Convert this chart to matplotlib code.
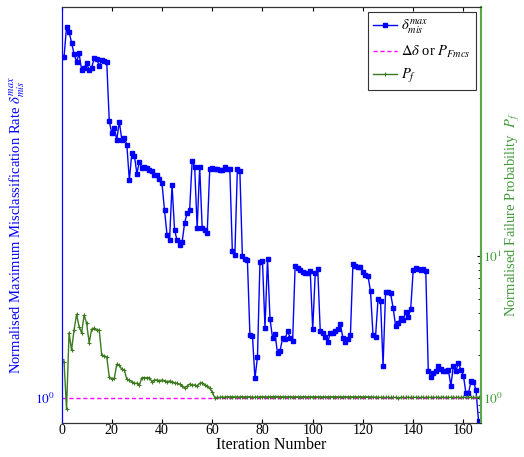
import matplotlib
matplotlib.use("Agg")
import matplotlib.pyplot as plt
import numpy as np
from matplotlib.ticker import FixedLocator, NullLocator, NullFormatter

plt.rcParams['font.family'] = ['Liberation Serif', 'DejaVu Serif']
plt.rcParams['mathtext.fontset'] = 'stix'

# normalised maximum misclassification rate (left axis), iterations 0..166
delta_mis = [
    7.12, 7.12, 8.47, 8.24, 7.74, 7.24, 6.93, 7.27, 6.61, 6.70,
    6.87, 6.61, 6.70, 7.07, 7.03, 6.78, 7.00, 6.98, 6.93, 4.93,
    4.59, 4.74, 4.42, 4.91, 4.43, 4.48, 4.30, 3.50, 4.11, 4.04,
    3.64, 3.90, 3.75, 3.79, 3.75, 3.72, 3.70, 3.62, 3.62, 3.52,
    3.44, 2.95, 2.56, 2.48, 3.41, 2.63, 2.48, 2.41, 2.45, 2.74,
    2.90, 2.95, 3.91, 3.79, 2.66, 3.79, 2.66, 2.63, 2.59, 3.73,
    3.77, 3.74, 3.74, 3.71, 3.71, 3.79, 3.73, 3.73, 2.33, 2.28,
    3.73, 3.69, 2.26, 2.23, 2.21, 1.437, 1.432, 1.12, 1.264, 2.19,
    2.20, 1.50, 2.23, 1.576, 1.415, 1.443, 1.294, 1.313, 1.41, 1.405,
    1.47, 1.415, 1.388, 2.14, 2.12, 2.09, 2.07, 2.05, 2.05, 2.08,
    1.485, 2.05, 2.10, 1.47, 1.45, 1.423, 1.383, 1.45, 1.45, 1.47,
    1.485, 1.53, 1.415, 1.383, 1.402, 1.437, 2.16, 2.14, 2.13, 2.13,
    2.07, 2.03, 2.02, 1.85, 1.437, 1.423, 1.765, 1.748, 1.205, 1.837,
    1.844, 1.827, 1.681, 1.514, 1.543, 1.582, 1.567, 1.638, 1.591, 1.667,
    2.09, 2.11, 2.10, 2.09, 2.10, 2.08, 1.17, 1.13, 1.153, 1.17,
    1.205, 1.18, 1.168, 1.168, 1.175, 1.073, 1.205, 1.168, 1.225, 1.175,
    1.137, 1.027, 1.027, 1.103, 1.098, 1.047, 0.876,
]

# normalised failure probability (right axis)
p_f = [
    1.873, 1.80, 0.832, 2.88, 2.17, 3.03, 3.88, 3.18, 2.88, 3.84,
    3.36, 2.45, 3.05, 3.10, 3.01, 3.01, 2.01, 1.98, 1.95, 1.413,
    1.36, 1.377, 1.727, 1.707, 1.592, 1.575, 1.355, 1.339, 1.303, 1.269,
    1.269, 1.235, 1.39, 1.39, 1.39, 1.39, 1.303, 1.339, 1.339, 1.324,
    1.339, 1.324, 1.303, 1.317, 1.303, 1.282, 1.269, 1.249, 1.215, 1.182,
    1.215, 1.255, 1.235, 1.235, 1.215, 1.269, 1.282, 1.235, 1.215, 1.17,
    1.107, 1.005, 1.01, 1.01, 1.015, 1.015, 1.02, 1.02, 1.02, 1.02,
    1.015, 1.02, 1.02, 1.02, 1.02, 1.02, 1.015, 1.015, 1.015, 1.02,
    1.02, 1.02, 1.02, 1.02, 1.025, 1.025, 1.025, 1.02, 1.02, 1.02,
    1.02, 1.02, 1.02, 1.02, 1.02, 1.02, 1.02, 1.02, 1.02, 1.02,
    1.02, 1.02, 1.02, 1.02, 1.02, 1.02, 1.02, 1.02, 1.02, 1.02,
    1.02, 1.02, 1.02, 1.02, 1.02, 1.02, 1.02, 1.02, 1.02, 1.02,
    1.02, 1.02, 1.02, 1.02, 1.015, 1.015, 1.01, 1.01, 1.01, 1.01,
    1.01, 1.01, 1.01, 1.01, 1.005, 1.01, 1.01, 1.01, 1.01, 1.01,
    1.01, 1.01, 1.01, 1.01, 1.01, 1.01, 1.01, 1.01, 1.01, 1.01,
    1.01, 1.01, 1.01, 1.01, 1.01, 1.01, 1.01, 1.01, 1.01, 1.01,
    1.01, 1.01, 1.01, 1.01, 1.01, 1.01, 1.01,
]

ref_level = 1.0  # delta-delta / P_Fmcs normalisation
iterations = np.arange(len(delta_mis))
x_ticks = [0, 20, 40, 60, 80, 100, 120, 140, 160]

blue = '#0000ff'
green_line = '#3b7a1e'
green_axis = '#5aa84a'
green_text = '#3f9a35'

fig = plt.figure(figsize=(5.24, 4.57), dpi=100)
ax = fig.add_axes([0.1174, 0.075, 0.8006, 0.909])
ax2 = ax.twinx()

l1, = ax.plot(iterations, delta_mis, '-s', color=blue, lw=1.0, ms=2.8,
              mec=blue, mfc=blue, label=r'$\delta_{mis}^{max}$')
l2 = ax2.axhline(ref_level, color='#ff00ff', ls='--', lw=1.0,
                 dashes=(3, 2), label=r'$\Delta\delta$ or $P_{Fmcs}$')
l3, = ax2.plot(iterations, p_f, '-+', color=green_line, lw=1.0, ms=2.5,
               mew=0.8, label=r'$P_f$')

ax.set_yscale('log')
ax2.set_yscale('log')
ax.set_xlim(0, 167)
ax.set_ylim(10 ** -0.0618, 10 ** 0.977)
ax2.set_ylim(0.670, 564)

ax.set_xticks(x_ticks)
ax.tick_params(axis='x', direction='in', top=True, labelsize=10, length=3,
               pad=1)
ax.yaxis.set_major_locator(FixedLocator([1]))
ax.yaxis.set_minor_locator(NullLocator())
ax.tick_params(axis='y', direction='in', length=0, labelsize=9.5,
               labelcolor=blue, pad=5)
ax.set_yticklabels([r'$10^0$'])

ax2.yaxis.set_major_locator(FixedLocator([1, 10]))
ax2.yaxis.set_minor_locator(FixedLocator([0.7, 0.8, 0.9, 2, 3, 4, 5, 6, 7, 8, 9]))
ax2.yaxis.set_minor_formatter(NullFormatter())
ax2.set_yticklabels([r'$10^0$', r'$10^1$'])
ax2.tick_params(axis='y', which='major', direction='in', length=3,
                labelsize=9.5, labelcolor=green_text, color='black', pad=1.5)
ax2.tick_params(axis='y', which='minor', direction='in', length=2,
                color='black')

for a in (ax, ax2):
    a.spines['left'].set_color(blue)
    a.spines['right'].set_color(green_axis)
    a.spines['right'].set_linewidth(1.5)
    a.spines['top'].set_color('#333333')
    a.spines['bottom'].set_color('#333333')

ax.set_xlabel('Iteration Number', fontsize=11.5, labelpad=0)
ax.set_ylabel(r'Normalised Maximum Misclassification Rate $\delta_{mis}^{max}$',
              color=blue, fontsize=10.5, labelpad=2)
ax.yaxis.set_label_coords(-0.082, 0.475)
ax2.set_ylabel(r'Normalised Failure Probability  $P_f$', color=green_text,
               fontsize=10.5, labelpad=1)

leg = ax2.legend(handles=[l1, l2, l3], loc='upper right', fontsize=10.5,
                 fancybox=False, edgecolor='#333333', framealpha=1,
                 borderaxespad=0.35, handlelength=1.6, handletextpad=0.3,
                 numpoints=1, labelspacing=0.5, borderpad=0.35)
leg.get_frame().set_linewidth(0.8)

fig.savefig('out.png', dpi=100)
